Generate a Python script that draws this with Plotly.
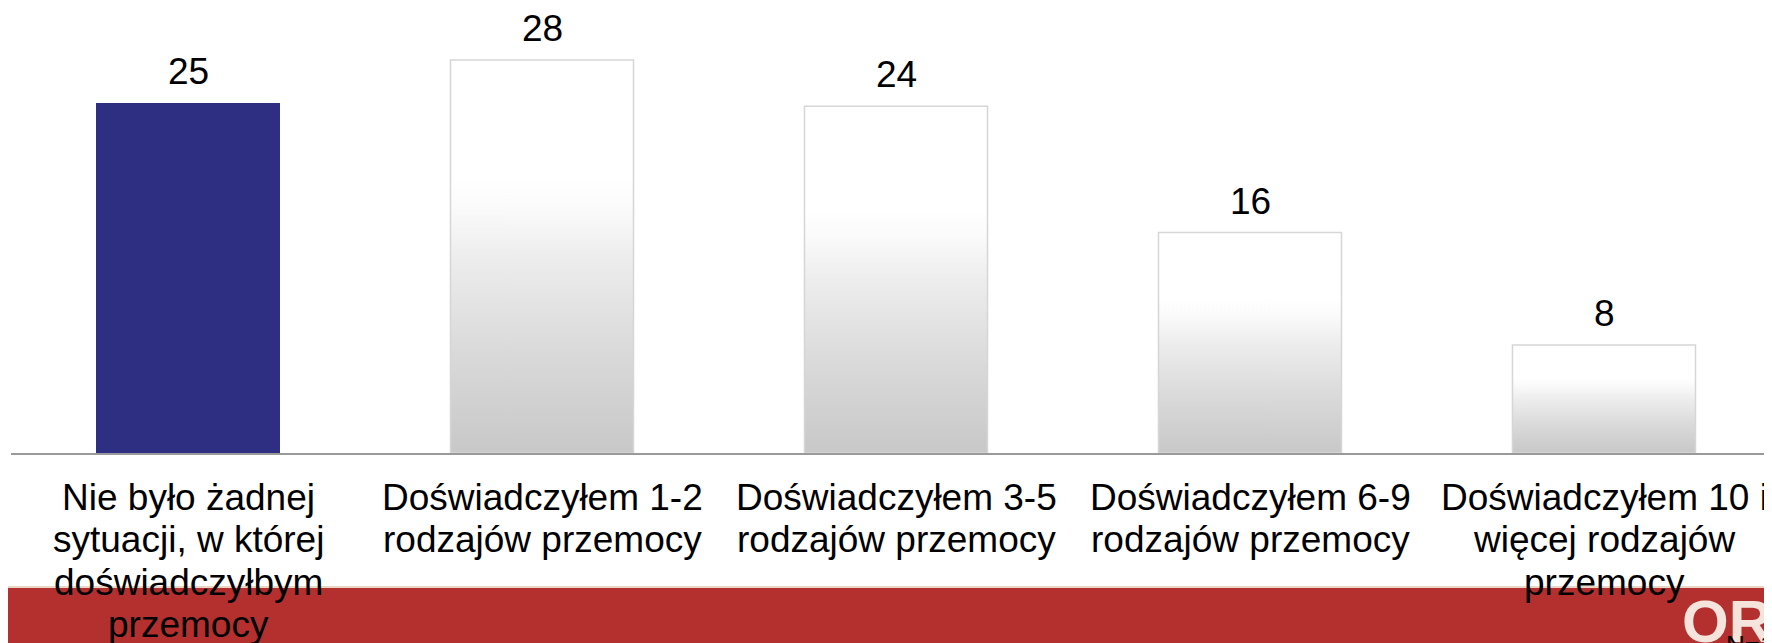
import plotly.graph_objects as go

# ---- data ----
categories = [
    "Nie było żadnej<br>sytuacji, w której<br>doświadczyłbym<br>przemocy",
    "Doświadczyłem 1-2<br>rodzajów przemocy",
    "Doświadczyłem 3-5<br>rodzajów przemocy",
    "Doświadczyłem 6-9<br>rodzajów przemocy",
    "Doświadczyłem 10 i<br>więcej rodzajów<br>przemocy",
]
values = [24.9, 28.0, 24.7, 15.7, 7.7]
value_labels = ["25", "28", "24", "16", "8"]
highlight = [True, False, False, False, False]

# ---- geometry / style ----
W, H = 1772, 643
OFF = 8                      # page body margin offset
BASE = 453 - OFF             # baseline in figure pixels
ML, MR, MT = 11 - OFF, 0, 0
MB = H - BASE
plot_w = W - ML - MR
plot_h = BASE - MT
px_per_cat = 354.0
px_per_unit = 14.04
bar_w = 0.517
font_family = "Liberation Sans, Arial, sans-serif"
navy = "#2e2f82"
red = "#b3302f"

xs = list(range(len(categories)))

fig = go.Figure()

# highlighted (solid) bars through a bar trace
fig.add_trace(go.Bar(
    x=xs, y=values, width=bar_w,
    marker=dict(color=[navy if h else "rgba(0,0,0,0)" for h in highlight],
                line=dict(width=0)),
    hoverinfo="skip", showlegend=False,
))

# gradient bars for the non highlighted categories
grad = [[0.0, "#c8c8c8"], [0.25, "#d9d9d9"], [0.5, "#ededed"],
        [0.62, "#fafafa"], [0.7, "#ffffff"], [1.0, "#ffffff"]]
for x, v, h in zip(xs, values, highlight):
    if h:
        continue
    x0, x1 = x - bar_w / 2, x + bar_w / 2
    fig.add_trace(go.Scatter(
        x=[x0, x1, x1, x0, x0], y=[0, 0, v, v, 0],
        mode="lines", fill="toself",
        fillgradient=dict(type="vertical", colorscale=grad),
        line=dict(color="#d6d6d6", width=1.5),
        hoverinfo="skip", showlegend=False,
    ))

annotations = []
# value labels
for x, v, lab in zip(xs, values, value_labels):
    annotations.append(dict(
        x=x, y=v, xref="x", yref="y", text=lab,
        showarrow=False, yanchor="bottom", yshift=9,
        font=dict(family=font_family, size=37, color="#000000"),
    ))
# category labels, line by line
line_gap = 42.5
first_off = 44
for x, cat in zip(xs, categories):
    for j, line in enumerate(cat.split("<br>")):
        annotations.append(dict(
            x=x, y=0, xref="x", yref="y", text=line,
            showarrow=False, yanchor="middle", xanchor="center",
            yshift=-(first_off + j * line_gap),
            font=dict(family=font_family, size=37, color="#000000"),
        ))


def pxx(p):
    return (p - OFF - ML) / plot_w


def pxy(p):
    return (BASE - (p - OFF)) / plot_h


# logo text
annotations.append(dict(
    x=pxx(1680), y=pxy(586), xref="paper", yref="paper", text="<b>OR</b>",
    showarrow=False, xanchor="left", yanchor="top",
    font=dict(family=font_family, size=60, color="#f4e4dc"),
))
annotations.append(dict(
    x=pxx(1724), y=pxy(628), xref="paper", yref="paper", text="N=1",
    showarrow=False, xanchor="left", yanchor="top",
    font=dict(family=font_family, size=26, color="#000000"),
))

shapes = [
    dict(type="rect", xref="paper", yref="paper", layer="below",
         x0=pxx(0), x1=pxx(W + OFF), y0=pxy(H + OFF), y1=pxy(587),
         fillcolor=red, line=dict(width=0)),
    dict(type="line", xref="paper", yref="paper", layer="below",
         x0=pxx(0), x1=pxx(W + OFF), y0=pxy(587), y1=pxy(587),
         line=dict(color="#e9d6c6", width=2)),
]

fig.update_layout(
    width=W, height=H,
    margin=dict(l=ML, r=MR, t=MT, b=MB, pad=0),
    paper_bgcolor="#ffffff", plot_bgcolor="rgba(0,0,0,0)",
    xaxis=dict(range=[-0.5, -0.5 + plot_w / px_per_cat], showgrid=False,
               zeroline=False, showticklabels=False, ticks="",
               showline=True, linecolor="#9a9a9a", linewidth=2,
               fixedrange=True),
    yaxis=dict(range=[0, plot_h / px_per_unit], showgrid=False,
               zeroline=False, showticklabels=False, ticks="",
               showline=False, fixedrange=True),
    annotations=annotations, shapes=shapes,
    showlegend=False, bargap=0,
)

fig.write_html("out.html", config=dict(displayModeBar=False))
